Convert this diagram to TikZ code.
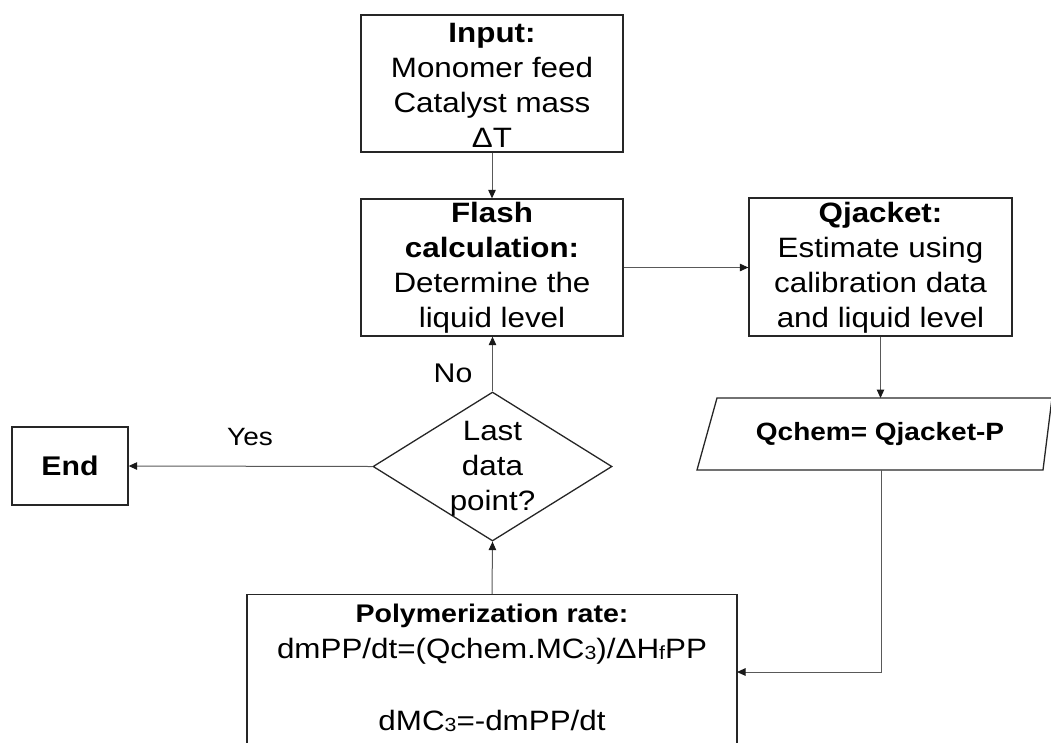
\documentclass[tikz,border=0pt]{standalone}
\usepackage{fontspec}
\setmainfont[FakeStretch=1.12]{Liberation Sans}
\usetikzlibrary{shapes.geometric,arrows.meta}

% small lowered characters used as indices in the formulas
\newcommand\lowidx[1]{\raisebox{-1pt}{\fontsize{19}{19}\selectfont #1}}

\begin{document}
\begin{tikzpicture}[x=1pt,y=-1pt,
  box/.style={draw=black!85, line width=1.3pt, rectangle, inner sep=0pt},
  txt/.style={align=center, inner sep=0pt},
  big/.style={font=\fontsize{28}{35}\selectfont},
  conn/.style={draw=black!65, line width=1pt, -{Triangle[length=8.5pt,width=7.5pt,color=black!90]}},
]
\useasboundingbox (0,0) rectangle (1051,742);
\clip (0,0) rectangle (1051,742);

% process boxes
\node[box, minimum width=262pt, minimum height=137pt] (input) at (492,83.5) {};
\node[txt, big] (inputtxt) at (492,85) {\textbf{Input:}\\Monomer feed\\Catalyst mass\\ΔT};

\node[box, minimum width=262pt, minimum height=137pt] (flash) at (492,267.5) {};
\node[txt, big] (flashtxt) at (492,268) {\textbf{Flash}\\\textbf{calculation:}\\Determine the\\liquid level};

\node[box, minimum width=263pt, minimum height=138pt] (qjacket) at (880.5,267) {};
\node[txt, big] (qjackettxt) at (880.5,268) {\textbf{Qjacket:}\\Estimate using\\calibration data\\and liquid level};

% data box
\draw[draw=black!85, line width=1.3pt] (717,398) -- (1052,398) -- (1043,470) -- (697,470) -- cycle;
\node[txt, font=\bfseries\fontsize{25}{30}\selectfont] (qchem) at (880,434) {Qchem= Qjacket-P};
\coordinate (qchemtop) at (880.5,398);
\coordinate (qchembot) at (881,470);

% decision
\node[draw=black!85, line width=1.3pt, diamond, minimum width=239pt, minimum height=149pt, inner sep=0pt] (dec) at (492.5,466.5) {};
\node[txt, big] (dectxt) at (492.5,469) {Last\\data\\point?};

% terminal
\node[box, minimum width=116pt, minimum height=78pt, font=\bfseries\fontsize{27}{33}\selectfont] (end) at (70,466) {End};

% rate box, running past the lower edge
\node[box, minimum width=490pt, minimum height=200pt, anchor=north] (poly) at (492,594) {};
\node[txt, font=\fontsize{28}{36}\selectfont] (polytxt) at (492,668)
  {{\bfseries\fontsize{25.5}{36}\selectfont Polymerization rate:}\\
   dmPP/dt=(Qchem.MC\lowidx{3})/ΔH\lowidx{f}PP\\
   \strut\\
   dMC\lowidx{3}=-dmPP/dt};
\coordinate (polyin) at (737,672);

% connectors
\draw[conn] (input.south) -- (flash.north);
\draw[conn] (flash.east) -- (flash.east -| qjacket.west);
\draw[conn] (qjacket.south) -- (qjacket.south |- qchemtop);
\draw[conn] (qchembot) |- (polyin);
\draw[conn] (poly.north) -- (dec.south);
\draw[conn] (dec.north) -- (dec.north |- flash.south);
\draw[conn] (dec.west) -- (end.east);

% branch labels
\node[txt, font=\fontsize{27}{33}\selectfont] (nolbl) at (453,373) {No};
\node[txt, font=\fontsize{25}{30}\selectfont] (yeslbl) at (250,437) {Yes};
\end{tikzpicture}
\end{document}
